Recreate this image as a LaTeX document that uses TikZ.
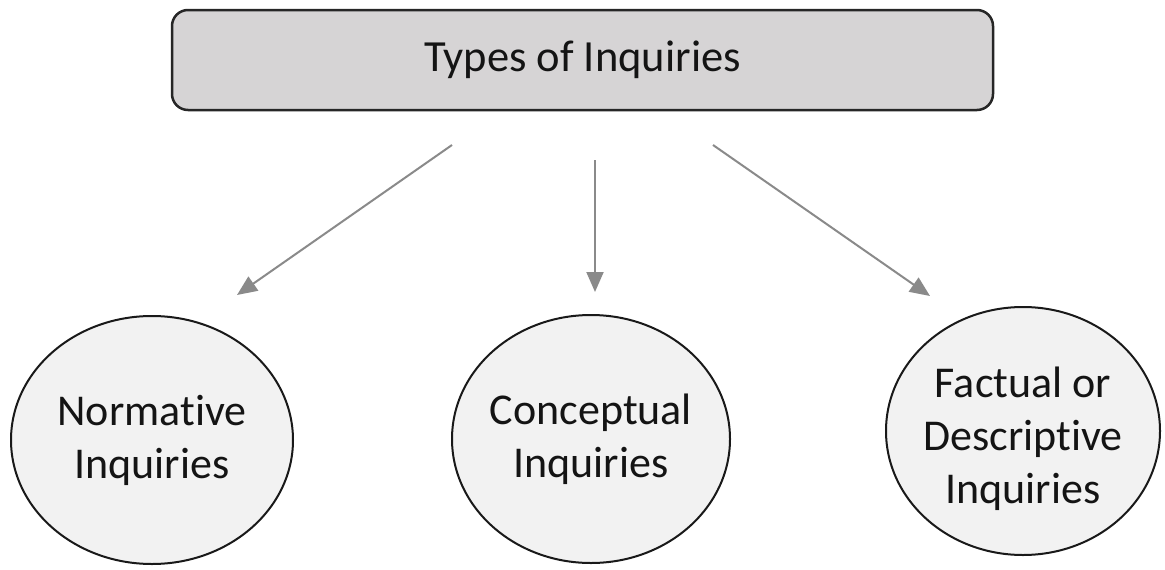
\documentclass[tikz,border=0pt]{standalone}
\usepackage{fontspec}
\setmainfont{Carlito}[Ligatures={NoCommon}]
\usetikzlibrary{arrows.meta,shapes.geometric}
\definecolor{boxfill}{HTML}{D6D4D5}
\definecolor{circfill}{HTML}{F2F2F2}
\definecolor{arrowgray}{HTML}{8A8A8A}
\begin{document}
\begin{tikzpicture}[x=1pt,y=-1pt,
  titlebox/.style={draw=black!85,line width=2.5pt,fill=boxfill,rounded corners=16pt,
    minimum width=821pt,minimum height=100pt,inner sep=0pt,
    font=\fontsize{44.5}{54}\selectfont,text=black!92},
  inqcircle/.style={draw=black!90,line width=2pt,fill=circfill,ellipse,inner sep=-30pt,
    align=center,font=\fontsize{44}{53}\selectfont,text=black!92},
  link/.style={draw=arrowgray,line width=2pt,-{Triangle[length=20pt,width=17pt]}}]
\useasboundingbox (0,0) rectangle (1165,570);
\node[titlebox] (top) at (582.5,60) {Types of Inquiries};
\node[inqcircle,minimum width=282pt,minimum height=248pt] (norm) at (152,440) {Normative\\Inquiries};
\node[inqcircle,minimum width=278pt,minimum height=248pt] (conc) at (591,439) {Conceptual\\Inquiries};
\node[inqcircle,minimum width=274pt,minimum height=248pt,text height=152pt] (fact) at (1023,431) {Factual or\\Descriptive\\Inquiries};
\coordinate (a1) at (452,145);
\coordinate (b1) at (237,295);
\coordinate (a2) at (595,160);
\coordinate (b2) at (595,292);
\coordinate (a3) at (713,145);
\coordinate (b3) at (930,296);
\draw[link] (a1) -- (b1);
\draw[link] (a2) -- (b2);
\draw[link] (a3) -- (b3);
\end{tikzpicture}
\end{document}
